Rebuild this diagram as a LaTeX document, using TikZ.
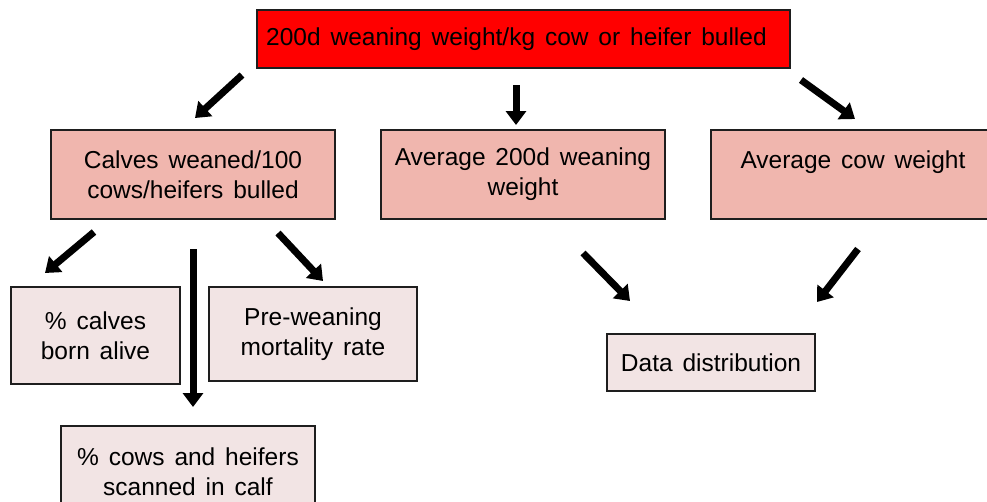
\documentclass[tikz,border=0pt]{standalone}
\usepackage{fontspec}
\setmainfont{Liberation Sans}[WordSpace=1.45]
\usetikzlibrary{arrows.meta}
\definecolor{topred}{RGB}{255,0,0}
\definecolor{midpink}{RGB}{240,182,174}
\definecolor{lowpink}{RGB}{242,228,228}
\definecolor{edge}{RGB}{30,30,30}
\begin{document}
\begin{tikzpicture}[x=1pt,y=-1pt,
  box/.style={draw=edge,line width=1.3pt,align=center,inner sep=0pt,
    font=\fontsize{24.5}{30}\selectfont},
  topbox/.style={box,fill=topred},
  midbox/.style={box,fill=midpink,minimum width=284pt,minimum height=89pt},
  lowbox/.style={box,fill=lowpink},
  bigarrow/.style={line width=7pt,-{Triangle[width=20pt,length=14pt]}}]
\useasboundingbox (0,0) rectangle (987,501);
\clip (0,0) rectangle (987,501);
\fill[white] (0,0) rectangle (987,501);

% boxes
\node[topbox,minimum width=533pt,minimum height=58pt] (top) at (523.5,39) {};
\node (toptext) at (516.5,39) [font=\fontsize{24.5}{30}\selectfont]
  {200d weaning weight/kg cow or heifer bulled};
\node[midbox] (calves) at (193,174.5) {Calves weaned/100\\cows/heifers bulled};
\node[midbox] (avgwean) at (523,174.5) {Average 200d weaning\\weight};
\node[midbox] (avgcow) at (853,174.5) {Average cow weight\\\mbox{}};
\node[lowbox,minimum width=169pt,minimum height=97pt] (alive) at (95.5,335.5)
  {\% calves\\born alive};
\node[lowbox,minimum width=208pt,minimum height=94pt] (prewean) at (313,334)
  {Pre-weaning\\mortality rate};
\node[lowbox,minimum width=254pt,minimum height=92pt] (scanned) at (188,472)
  {\% cows and heifers\\scanned in calf};
\node[lowbox,minimum width=208pt,minimum height=57pt] (datadist) at (711,362.5)
  {Data distribution};

% free-standing arrow ends
\coordinate (a1s) at (242,75);  \coordinate (a1e) at (195,118);
\coordinate (a2s) at (516,85);  \coordinate (a2e) at (516,125);
\coordinate (a3s) at (801,80);  \coordinate (a3e) at (855,119);
\coordinate (b1s) at (94,232);  \coordinate (b1e) at (45,273);
\coordinate (b2s) at (193,249); \coordinate (b2e) at (193,407);
\coordinate (b3s) at (278,233); \coordinate (b3e) at (323,281);
\coordinate (c1s) at (583,253); \coordinate (c1e) at (630,301);
\coordinate (c2s) at (858,249); \coordinate (c2e) at (817,302);

\draw[bigarrow] (a1s) -- (a1e);
\draw[bigarrow] (a2s) -- (a2e);
\draw[bigarrow] (a3s) -- (a3e);
\draw[bigarrow] (b1s) -- (b1e);
\draw[bigarrow] (b2s) -- (b2e);
\draw[bigarrow] (b3s) -- (b3e);
\draw[bigarrow] (c1s) -- (c1e);
\draw[bigarrow] (c2s) -- (c2e);
\end{tikzpicture}
\end{document}
